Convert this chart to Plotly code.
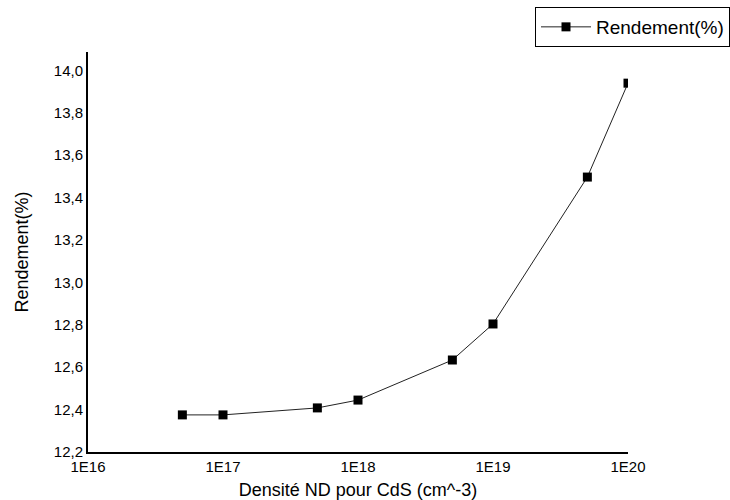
import plotly.graph_objects as go

densite = [5e16, 1e17, 5e17, 1e18, 5e18, 1e19, 5e19, 1e20]
rendement = [12.375, 12.375, 12.408, 12.445, 12.634, 12.804, 13.497, 13.94]
x_tickvals = [1e16, 1e17, 1e18, 1e19, 1e20]
x_ticktext = ["1E16", "1E17", "1E18", "1E19", "1E20"]
y_tickvals = [12.2, 12.4, 12.6, 12.8, 13.0, 13.2, 13.4, 13.6, 13.8, 14.0]

fig = go.Figure()
fig.add_trace(go.Scatter(
    x=densite, y=rendement, mode="lines+markers", name="Rendement(%)",
    line=dict(color="#222222", width=1),
    marker=dict(symbol="square", size=9, color="black"),
    cliponaxis=True,
))

fig.update_layout(
    width=730, height=500,
    margin=dict(l=88, r=102, t=52, b=48, autoexpand=False),
    plot_bgcolor="white", paper_bgcolor="white",
    separators=", ",
    font=dict(family="Liberation Sans, Arial, sans-serif", color="black", size=15),
    showlegend=True,
    legend=dict(
        x=1.0, xref="container", xanchor="right",
        y=0.986, yref="container", yanchor="top",
        bordercolor="black", borderwidth=1, bgcolor="white",
        font=dict(size=19, color="black"),
        itemwidth=50,
    ),
    xaxis=dict(
        type="log", range=[16, 20],
        tickvals=x_tickvals, ticktext=x_ticktext,
        showgrid=False, zeroline=False,
        showline=True, linecolor="black", linewidth=2,
        ticks="", ticklabelstandoff=0,
        tickfont=dict(size=15),
        title=dict(text="Densité ND pour CdS (cm^-3)", font=dict(size=18), standoff=12),
    ),
    yaxis=dict(
        range=[12.2, 14.087],
        tickvals=y_tickvals, tickformat=".1f",
        showgrid=False, zeroline=False,
        showline=True, linecolor="black", linewidth=2,
        ticks="", ticklabelstandoff=0,
        tickfont=dict(size=15),
        title=dict(text="Rendement(%)", font=dict(size=18), standoff=20),
    ),
)

fig.write_html("out.html")
